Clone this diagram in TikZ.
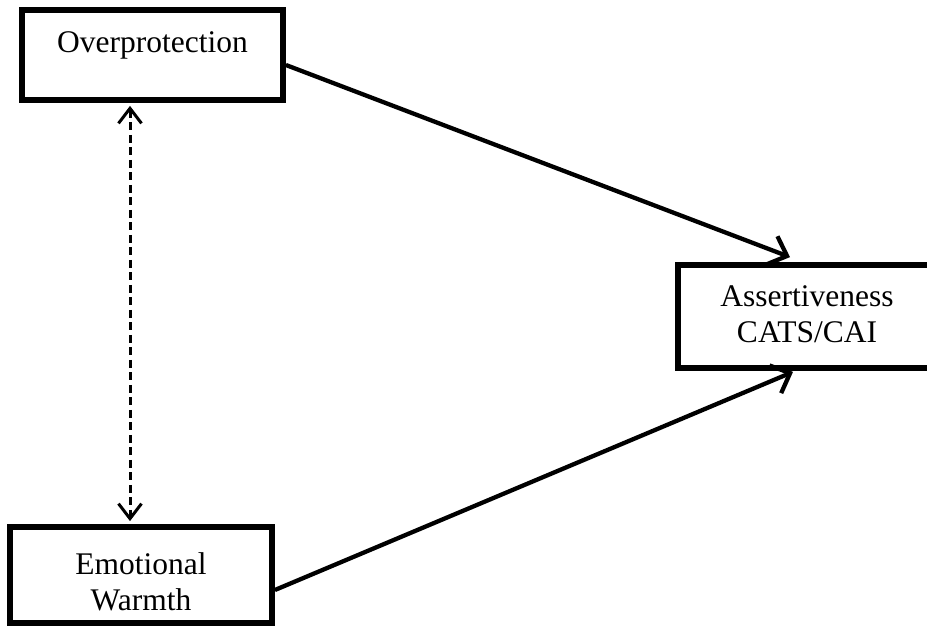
\documentclass[tikz,border=0pt]{standalone}
\usepackage{fontspec}
\setmainfont{Liberation Serif}
\usetikzlibrary{arrows.meta,calc}
\begin{document}
\begin{tikzpicture}[x=1pt,y=-1pt,
  box/.style={draw, line width=5.8pt, rectangle, inner sep=0pt, align=center,
    font=\fontsize{31.5}{36}\selectfont},
  pathline/.style={line width=4.3pt, -{Straight Barb[length=16pt,width=30pt]}},
  covar/.style={line width=3pt, dash pattern=on 8pt off 4.5pt,
    {Straight Barb[length=15pt,width=23pt]}-{Straight Barb[length=15pt,width=23pt]}}
]
\useasboundingbox (0,0) rectangle (927,628);
\clip (0,0) rectangle (927,628);

% variables
\node[box, minimum width=261pt, minimum height=90pt, text height=22pt, text depth=26pt]
  (op) at (152.5,55) {Overprotection};
\node[box, minimum width=262pt, minimum height=96pt, text height=80pt, text depth=10pt]
  (ew) at (141,575) {Emotional\\Warmth};
\node[box, minimum width=258pt, minimum height=103pt, text height=70pt, text depth=17pt]
  (as) at (807,316.5) {Assertiveness\\CATS/CAI};

% covariance between the predictors
\coordinate (cx) at (130,0);
\draw[covar, shorten <=3pt, shorten >=3pt] (op.south -| cx) -- (ew.north -| cx);

% direct paths to the outcome
\draw[pathline] ($(op.east)+(0,10)$) -- ($(as.north)+(-17,-5)$);
\draw[pathline] ($(ew.east)+(0,15)$) -- ($(as.south)+(-14,1)$);
\end{tikzpicture}
\end{document}
